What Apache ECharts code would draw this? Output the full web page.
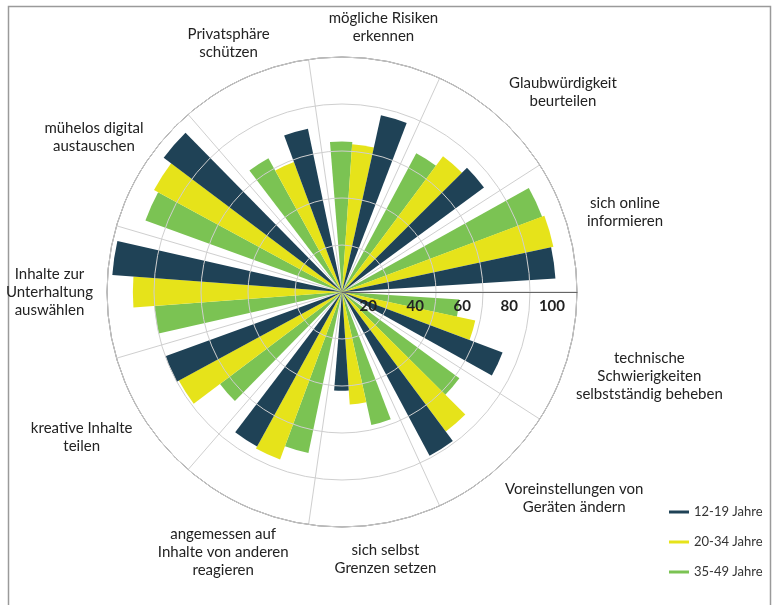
<!DOCTYPE html>
<html><head><meta charset="utf-8">
<script src="https://cdn.jsdelivr.net/npm/echarts@6/dist/echarts.min.js"></script>
<style>html,body{margin:0;padding:0;background:#fff}#c{width:772px;height:605px}</style>
</head><body><div id="c"></div>
<script>
const categories = [
  'sich online\ninformieren',
  'Glaubwürdigkeit\nbeurteilen',
  'mögliche Risiken\nerkennen',
  'Privatsphäre\nschützen',
  'mühelos digital\naustauschen',
  'Inhalte zur\nUnterhaltung\nauswählen',
  'kreative Inhalte\nteilen',
  'angemessen auf\nInhalte von anderen\nreagieren',
  'sich selbst\nGrenzen setzen',
  'Voreinstellungen von\nGeräten ändern',
  'technische\nSchwierigkeiten\nselbstständig beheben'
];
const seriesNames = ['12-19 Jahre', '20-34 Jahre', '35-49 Jahre'];
const values1219 = [91, 75, 77, 71, 95, 98, 80, 75, 42, 79, 73];
const values2034 = [92, 72, 63, 59, 91, 89, 79, 76, 48, 74, 58];
const values3549 = [91, 67, 64, 65, 89, 80, 65, 70, 58, 62, 50];
const radiusMin = 0, radiusMax = 100, radiusStep = 20;

const colors = ['#1f4256', '#e6e31a', '#7bc353'];
const FONT = 'Lato';

// fine placement of the category labels (text padding only)
const labelPadding = [
  [0, 0, 20, 6],
  [0, 0, -6, 4],
  [0, 0, 0, 12],
  [0, -31, 4, 0],
  [0, -11, 2, 0],
  [0, 0, 0, 0],
  [-7, 0, 0, 0],
  [7, -50, 0, 0],
  [3, 0, 0, 16],
  [0, 0, 0, 0],
  [28, 0, 0, -5]
];

const chart = echarts.init(document.getElementById('c'), null, {renderer: 'canvas'});
const seriesData = [values1219, values2034, values3549];

chart.setOption({
  animation: false,
  backgroundColor: '#fff',
  textStyle: {fontFamily: FONT},
  graphic: [{
    type: 'rect', left: 6, top: 4, z: -10,
    shape: {width: 762, height: 640},
    style: {fill: 'none', stroke: '#9a9a9a', lineWidth: 1.5}
  }],
  polar: {center: [342, 292], radius: [0, 235]},
  angleAxis: {
    type: 'category',
    data: categories.map((c, i) => ({value: c, textStyle: {padding: labelPadding[i]}})),
    startAngle: 0,
    clockwise: false,
    boundaryGap: true,
    axisLine: {show: true, lineStyle: {color: '#555', width: 1}},
    axisTick: {show: false},
    splitLine: {show: true, lineStyle: {color: '#cfcfcf', width: 1}},
    axisLabel: {
      margin: 14,
      fontFamily: FONT,
      formatter: v => v.split('\n').map(s => '{c|' + s + '}').join('\n'),
      rich: {c: {align: 'center', fontSize: 15, lineHeight: 18, color: '#222', fontFamily: FONT}}
    },
    z: 1
  },
  radiusAxis: {
    type: 'value',
    min: radiusMin, max: radiusMax, interval: radiusStep,
    axisLine: {show: true, lineStyle: {color: '#666', width: 1}},
    axisTick: {show: false},
    splitLine: {show: true, lineStyle: {color: '#cfcfcf', width: 1}},
    axisLabel: {
      showMinLabel: false,
      fontFamily: FONT, fontSize: 15, fontWeight: 'bold', color: '#222',
      align: 'right', verticalAlign: 'top', margin: 5, padding: [12, 12, 0, 0]
    },
    z: 10
  },
  legend: {
    orient: 'vertical',
    left: 664, top: 499,
    itemWidth: 20, itemHeight: 3,
    itemGap: 14,
    icon: 'rect',
    textStyle: {fontFamily: FONT, fontSize: 13, color: '#333', lineHeight: 16},
    data: seriesNames
  },
  series: [2, 1, 0].map(i => ({
    type: 'bar',
    coordinateSystem: 'polar',
    name: seriesNames[i],
    data: seriesData[i],
    barGap: '0%',
    barCategoryGap: '22%',
    itemStyle: {color: colors[i]},
    z: 2
  }))
});
</script>
</body></html>
